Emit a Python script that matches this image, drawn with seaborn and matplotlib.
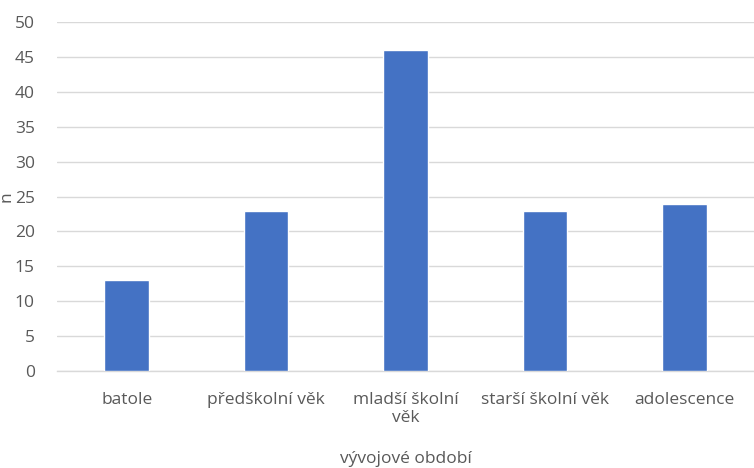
import matplotlib
matplotlib.use("Agg")
import matplotlib.pyplot as plt
import seaborn as sns
import pandas as pd

categories = ["batole", "předškolní věk", "mladší školní\nvěk", "starší školní věk", "adolescence"]
counts = [13, 23, 46, 23, 24]
y_ticks = [0, 5, 10, 15, 20, 25, 30, 35, 40, 45, 50]

sns.set_theme(style="white")
plt.rcParams["font.family"] = ["Open Sans", "DejaVu Sans"]

text_color = "#595959"
fs = 12.5
df = pd.DataFrame({"období": categories, "n": counts})

fig = plt.figure(figsize=(7.54, 4.68), dpi=100)
ax = fig.add_axes([0.0756, 0.207, 0.9244, 0.746])

sns.barplot(data=df, x="období", y="n", color="#4472C4", width=0.32,
            saturation=1, ax=ax, zorder=3)

ax.set_ylim(0, 50)
ax.set_yticks(y_ticks)
ax.set_xlim(-0.5, 4.5)
ax.yaxis.grid(True, color="#D9D9D9", linewidth=1, zorder=0)
for s in ["top", "right", "left"]:
    ax.spines[s].set_visible(False)
ax.spines["bottom"].set_color("#D9D9D9")
ax.spines["bottom"].set_linewidth(1)

ax.tick_params(axis="y", length=0, pad=16, labelsize=fs, labelcolor=text_color)
ax.tick_params(axis="x", length=0, pad=15, labelsize=fs, labelcolor=text_color)
for lbl in ax.get_xticklabels():
    lbl.set_linespacing(1.2)

ax.set_ylabel("n", fontsize=fs, color=text_color)
ax.yaxis.set_label_coords(-0.061, 0.50)
ax.set_xlabel("vývojové období", fontsize=fs, color=text_color, labelpad=18)

fig.savefig("out.png", dpi=100)
